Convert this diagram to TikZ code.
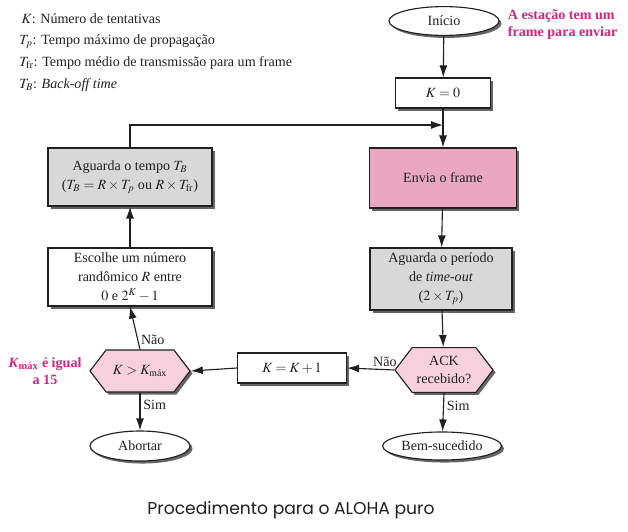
\documentclass[tikz,border=0pt]{standalone}
\usepackage{mathptmx}
\usepackage{fontspec}
\setmainfont{Liberation Serif}
\newfontfamily\capfont{Poppins}
\usetikzlibrary{arrows.meta, positioning, shapes.geometric, shapes.symbols, shadows}
\definecolor{alopink}{HTML}{E9A7C0}
\definecolor{alohex}{HTML}{F6D0DD}
\definecolor{alogray}{HTML}{D8D8D8}
\definecolor{alomag}{HTML}{D4237F}
\definecolor{alodark}{HTML}{231F20}
\tikzset{
  shade/.style={drop shadow={shadow xshift=1.8pt, shadow yshift=-1.8pt, fill=black!60, opacity=1}},
  stepbox/.style={rectangle, draw=alodark, line width=0.8pt, align=center, fill=white,
    text=alodark, inner sep=2pt, font=\rmfamily\fontsize{10}{13.5}\selectfont, shade},
  endnode/.style={ellipse, draw=alodark, line width=0.8pt, fill=white, text=alodark,
    inner sep=1pt, font=\rmfamily\fontsize{10}{12}\selectfont, shade},
  hexnode/.style={signal, signal to=west and east, signal pointer angle=105, draw=alodark,
    line width=0.8pt, fill=alohex, align=center, text=alodark, inner sep=1pt,
    font=\rmfamily\fontsize{10}{12.5}\selectfont, shade},
  note/.style={align=center, text=alomag, font=\rmfamily\fontsize{10}{12}\selectfont\bfseries},
  legend/.style={align=left, text=alodark, inner sep=0pt, font=\rmfamily\fontsize{10}{15.5}\selectfont},
  lbl/.style={text=alodark, font=\rmfamily\fontsize{10}{12}\selectfont, inner sep=2pt},
  arr/.style={-{Latex[length=3mm, width=2mm]}, line width=0.8pt, alodark},
}
\begin{document}
\begin{tikzpicture}[x=0.025cm, y=-0.025cm]
  \useasboundingbox (0,0) rectangle (628,531);
  % legenda
  \node[legend, anchor=north west] (legenda) at (19,13)
    {\,$K$: Número de tentativas\\
     $T_p$: Tempo máximo de propagação\\
     $T_{\mathrm{fr}}$: Tempo médio de transmissão para um frame\\
     $T_B$: \textit{Back-off time}};
  % coluna da direita
  \node[endnode, minimum width=2.75cm, minimum height=0.72cm] (inicio) at (444,21) {Início};
  \node[note, anchor=west, align=left] (nota) at (503,25) {A estação tem um\\frame para enviar};
  \node[stepbox, minimum width=2.375cm, minimum height=0.75cm] (k0) at (443,93) {$K = 0$};
  \node[stepbox, fill=alopink, minimum width=3.675cm, minimum height=1.5cm] (envia) at (443,178) {Envia o frame};
  \node[stepbox, fill=alogray, minimum width=3.55cm, minimum height=1.55cm] (timeout) at (441,279)
    {Aguarda o período\\de \textit{time-out}\\($2 \times T_p$)};
  \node[hexnode, minimum width=2.45cm, minimum height=1.12cm] (ack) at (444,370) {ACK\\recebido?};
  \node[endnode, minimum width=2.4cm, minimum height=0.7cm] (sucesso) at (442,446) {Bem-sucedido};
  % coluna da esquerda
  \node[stepbox, minimum width=2.725cm, minimum height=0.75cm] (kinc) at (292,368) {$K = K + 1$};
  \node[hexnode, minimum width=2.5cm, minimum height=1.05cm] (kmax) at (140,371)
    {$K > K_{\mbox{\scriptsize máx}}$};
  \node[note] (notakmax) at (45,371) {\textit{K}\textsubscript{máx} é igual\\a 15};
  \node[endnode, minimum width=2.5cm, minimum height=0.75cm] (abortar) at (140,446) {Abortar};
  \node[stepbox, minimum width=4.1cm, minimum height=1.45cm] (escolhe) at (130,277)
    {Escolhe um número\\randômico $R$ entre\\$0$ e $2^K - 1$};
  \node[stepbox, fill=alogray, minimum width=4.1cm, minimum height=1.45cm] (aguardatb) at (130,177)
    {Aguarda o tempo $T_B$\\($T_B = R \times T_p$ ou $R \times T_{\mathrm{fr}}$)};
  \coordinate (juncao) at (k0 |- 0,125);
  % legenda da figura
  \node[font=\capfont\fontsize{12.2}{14}\selectfont, text=alodark] (titulo) at (291,510)
    {Procedimento para o ALOHA puro};
  % ligacoes
  \draw[arr] (inicio) -- (k0);
  \draw[arr] (k0) -- (envia);
  \draw[arr] (aguardatb.north) |- (juncao);
  \draw[arr] (envia) -- (timeout);
  \draw[arr] (timeout) -- (ack);
  \draw[arr] (ack.west) -- node[lbl, above, pos=0.2] {Não} (kinc.east);
  \draw[arr] (ack.south) -- node[lbl, right, pos=0.33] {Sim} (sucesso);
  \draw[arr] (kinc.west) -- (kmax.east);
  \draw[arr] (kmax.north) -- node[lbl, right, pos=0.23] {Não} (escolhe.south);
  \draw[arr] (kmax.south) -- node[lbl, right, pos=0.33] {Sim} (abortar);
  \draw[arr] (escolhe) -- (aguardatb);
\end{tikzpicture}
\end{document}
